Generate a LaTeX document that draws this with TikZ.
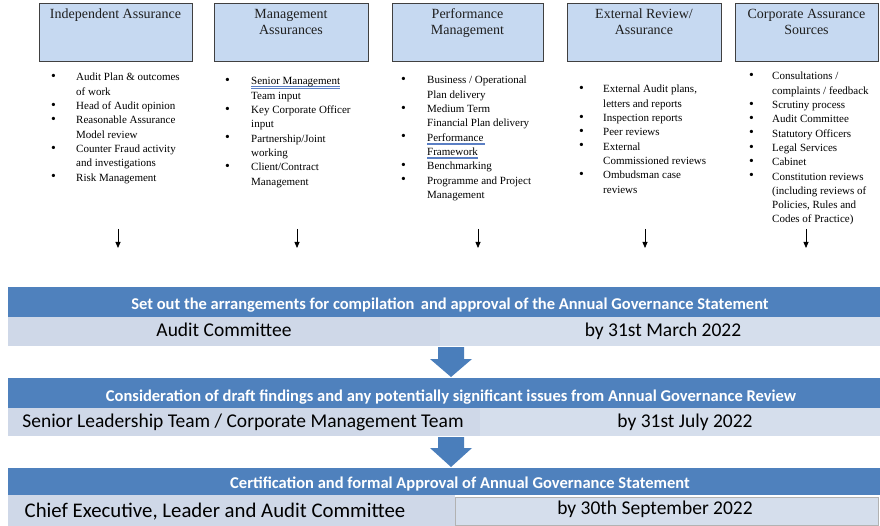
\documentclass[tikz,border=0pt]{standalone}
\usepackage{fontspec}
\setmainfont{Liberation Serif}
\newfontfamily\carl{Carlito}
\usetikzlibrary{arrows.meta}
\definecolor{boxfill}{HTML}{C6D9F1}
\definecolor{boxline}{HTML}{404040}
\definecolor{hdrblue}{HTML}{4F81BD}
\definecolor{rowA}{HTML}{CFD8E8}
\definecolor{rowB}{HTML}{D5DEEC}
\definecolor{arrblue}{HTML}{4A7EBB}
\definecolor{ulblue}{HTML}{5B7FC4}
\definecolor{titlegray}{HTML}{1F1F1F}
\newsavebox{\ulbbox}
\newcommand{\ulb}[1]{\sbox{\ulbbox}{#1}\leavevmode\rlap{\color{ulblue}\rule[-2.0pt]{\wd\ulbbox}{0.5pt}}\rlap{\color{ulblue}\rule[-3.3pt]{\wd\ulbbox}{0.5pt}}\usebox{\ulbbox}}
\newcommand{\bu}{\raisebox{0.3pt}{\scalebox{1.25}{\textbullet}}}
\tikzset{
  topbox/.style={draw=boxline, line width=0.9pt, fill=boxfill, anchor=north west, inner sep=0pt},
  boxtitle/.style={anchor=base, inner sep=0pt, text=titlegray, font=\fontsize{14}{15.5}\selectfont},
  blist/.style={anchor=base west, inner sep=0pt, font=\fontsize{11}{14.3}\selectfont},
  hdr/.style={fill=hdrblue, draw=none, anchor=north west, inner sep=0pt},
  rowcell/.style={fill=rowA, draw=none, anchor=north west, inner sep=0pt},
  hdrtext/.style={anchor=base, inner sep=0pt, text=white, font=\carl\bfseries\fontsize{16.5}{18}\selectfont},
  rowtext/.style={anchor=base, inner sep=0pt, text=black, font=\carl\fontsize{19.5}{21}\selectfont},
  smallarrow/.style={draw=black, line width=0.8pt, -{Triangle[width=5pt,length=6pt]}},
  bigarrow/.style={fill=arrblue, draw=none}
}
\begin{document}
\begin{tikzpicture}[x=1pt,y=-1pt]
\useasboundingbox[fill=white] (0,0) rectangle (880,526);

% ---------- top boxes ----------
\node[topbox, minimum width=153pt, minimum height=58pt] (b1) at (39,3) {};
\node[topbox, minimum width=154pt, minimum height=58pt] (b2) at (214,3) {};
\node[topbox, minimum width=151pt, minimum height=58pt] (b3) at (392,3) {};
\node[topbox, minimum width=154pt, minimum height=58pt] (b4) at (567,3) {};
\node[topbox, minimum width=143pt, minimum height=58pt] (b5) at (735,3) {};

\node[boxtitle] (t1) at (115.5,19) {\begin{tabular}[t]{@{}c@{}}Independent Assurance\end{tabular}};
\node[boxtitle] (t2) at (291,19) {\begin{tabular}[t]{@{}c@{}}Management\\Assurances\end{tabular}};
\node[boxtitle] (t3) at (467.5,19) {\begin{tabular}[t]{@{}c@{}}Performance\\Management\end{tabular}};
\node[boxtitle] (t4) at (644,19) {\begin{tabular}[t]{@{}c@{}}External Review/\\Assurance\end{tabular}};
\node[boxtitle] (t5) at (806.5,19) {\begin{tabular}[t]{@{}c@{}}Corporate Assurance\\Sources\end{tabular}};

% ---------- bullet lists ----------
\node[blist] (l1) at (51,81) {\begin{tabular}[t]{@{}p{25pt}@{}l@{}}
\bu & Audit Plan \& outcomes\\
    & of work\\
\bu & Head of Audit opinion\\
\bu & Reasonable Assurance\\
    & Model review\\
\bu & Counter Fraud activity\\
    & and investigations\\
\bu & Risk Management
\end{tabular}};

\node[blist] (l2) at (225,85) {\begin{tabular}[t]{@{}p{26pt}@{}l@{}}
\bu & \ulb{Senior Management}\\
    & Team input\\
\bu & Key Corporate Officer\\
    & input\\
\bu & Partnership/Joint\\
    & working\\
\bu & Client/Contract\\
    & Management
\end{tabular}};

\node[blist] (l3) at (401,84) {\begin{tabular}[t]{@{}p{26pt}@{}l@{}}
\bu & Business / Operational\\
    & Plan delivery\\
\bu & Medium Term\\
    & Financial Plan delivery\\
\bu & \ulb{Performance\,}\\
    & \ulb{Framework}\\
\bu & Benchmarking\\
\bu & Programme and Project\\
    & Management
\end{tabular}};

\node[blist] (l4) at (579,93) {\begin{tabular}[t]{@{}p{24pt}@{}l@{}}
\bu & External Audit plans,\\
    & letters and reports\\
\bu & Inspection reports\\
\bu & Peer reviews\\
\bu & External\\
    & Commissioned reviews\\
\bu & Ombudsman case\\
    & reviews
\end{tabular}};

\node[blist] (l5) at (749,80) {\begin{tabular}[t]{@{}p{23pt}@{}l@{}}
\bu & Consultations /\\
    & complaints / feedback\\
\bu & Scrutiny process\\
\bu & Audit Committee\\
\bu & Statutory Officers\\
\bu & Legal Services\\
\bu & Cabinet\\
\bu & Constitution reviews\\
    & (including reviews of\\
    & Policies, Rules and\\
    & Codes of Practice)
\end{tabular}};

% ---------- small arrows ----------
\foreach \i/\x in {1/118,2/297,3/478,4/645,5/806}{
  \coordinate (sa\i) at (\x,229);
  \coordinate (se\i) at (\x,248);
  \draw[smallarrow] (sa\i) -- (se\i);
}

% ---------- band 1 ----------
\node[hdr, minimum width=872pt, minimum height=30pt] (h1) at (8,287) {};
\node[rowcell, minimum width=432pt, minimum height=29pt] (r1a) at (8,317) {};
\node[rowcell, fill=rowB, minimum width=440pt, minimum height=29pt] (r1b) at (440,317) {};
\node[hdrtext] (h1t) at (450,310) {Set out the arrangements for compilation\, and approval of the Annual Governance Statement};
\node[rowtext] (r1at) at (224,337) {Audit Committee};
\node[rowtext] (r1bt) at (663,337) {by 31st March 2022};

% ---------- band 2 ----------
\node[hdr, minimum width=872pt, minimum height=30pt] (h2) at (8,378) {};
\node[rowcell, minimum width=472pt, minimum height=28pt] (r2a) at (8,408) {};
\node[rowcell, fill=rowB, minimum width=400pt, minimum height=28pt] (r2b) at (480,408) {};
\node[hdrtext] (h2t) at (451,401) {Consideration of draft findings and any potentially significant issues from Annual Governance Review};
\node[rowtext] (r2at) at (243,427) {Senior Leadership Team / Corporate Management Team};
\node[rowtext] (r2bt) at (685,427) {by 31st July 2022};

% ---------- band 3 ----------
\node[hdr, minimum width=872pt, minimum height=27pt] (h3) at (8,468) {};
\node[rowcell, minimum width=447pt, minimum height=31pt] (r3a) at (8,495) {};
\node[rowcell, fill=rowB, draw=gray!60, line width=0.6pt, minimum width=423pt, minimum height=28pt] (r3b) at (455,497) {};
\node[hdrtext] (h3t) at (460,488) {Certification and formal Approval of Annual Governance Statement};
\node[rowtext, font=\carl\fontsize{20.8}{22}\selectfont] (r3at) at (215,517) {Chief Executive, Leader and Audit Committee};
\node[rowtext] (r3bt) at (655,514) {by 30th September 2022};

% ---------- big arrows ----------
\fill[bigarrow] (438,347) -- (464,347) -- (464,359) -- (472,359) -- (451,377) -- (430,359) -- (438,359) -- cycle;
\fill[bigarrow] (438,437) -- (464,437) -- (464,448) -- (472,448) -- (451,467) -- (430,448) -- (438,448) -- cycle;
\end{tikzpicture}
\end{document}
